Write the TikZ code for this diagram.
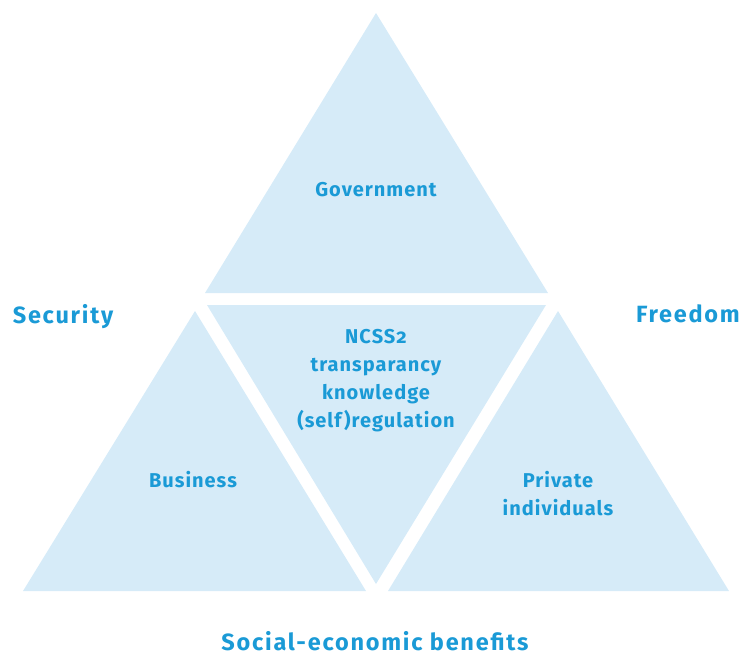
\documentclass[tikz,border=0pt]{standalone}
\usepackage{fontspec}
\setmainfont{Fira Sans}[Numbers=OldStyle]
\definecolor{tri}{HTML}{D6EBF8}
\definecolor{txt}{HTML}{1A9AD6}
\begin{document}
\begin{tikzpicture}[x=1pt,y=-1pt,
  tribox/.style={fill=tri,draw=none},
  lbl/.style={text=txt,font=\bfseries\fontsize{20}{28}\selectfont\addfontfeature{LetterSpace=5},align=center,inner sep=0pt},
  big/.style={text=txt,font=\bfseries\fontsize{23.5}{28}\selectfont\addfontfeature{LetterSpace=7.5},inner sep=0pt}]
\useasboundingbox (0,0) rectangle (744,657);
\fill[tribox] (376,13) -- (548,293) -- (205,293) -- cycle;
\fill[tribox] (207,305) -- (546,305) -- (376,584) -- cycle;
\fill[tribox] (195,311) -- (366,591) -- (23,591) -- cycle;
\fill[tribox] (558,311) -- (729,591) -- (388,591) -- cycle;
\node[lbl] (gov) at (376,190) {Government};
\node[lbl] (ncss) at (376,381) {NCSS2\\transparancy\\knowledge\\(self)regulation};
\node[lbl] (bus) at (193,480) {Business};
\node[lbl] (priv) at (558,494) {Private\\individuals};
\node[big] (sec) at (63,317) {Security};
\node[big] (free) at (688,314) {Freedom};
\node[big] (soc) at (375,641) {Social-economic benefits};
\end{tikzpicture}
\end{document}
